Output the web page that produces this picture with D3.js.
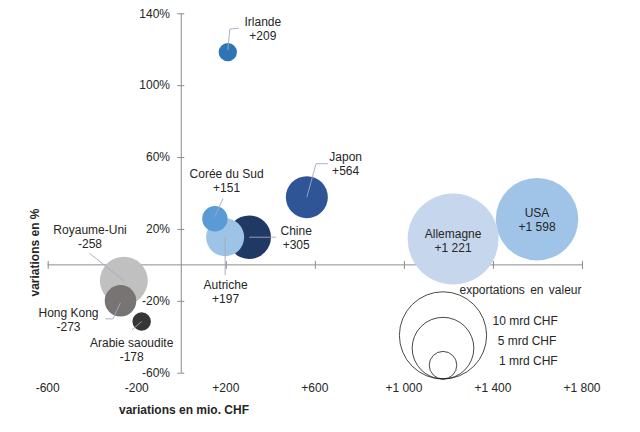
<!DOCTYPE html>
<html>
<head>
<meta charset="utf-8">
<script src="https://cdn.jsdelivr.net/npm/d3@7"></script>
<style>
  html, body { margin: 0; padding: 0; background: #fff; }
  svg { display: block; font-family: "Liberation Sans", Arial, sans-serif; }
</style>
</head>
<body>
<svg id="chart" width="640" height="432"></svg>
<script>
// ---- data ----
const countries   = ["Royaume-Uni", "Hong Kong", "Arabie saoudite", "Chine", "Autriche", "Corée du Sud", "Japon", "Irlande", "USA", "Allemagne"];
const changeMio   = [-258, -273, -178, 305, 197, 151, 564, 209, 1598, 1221];   // variations en mio. CHF
const changePct   = [-8.8, -20, -31.5, 15.4, 15.4, 25.7, 37.7, 118.4, 25.4, 14.4]; // variations en %
const exportsMrd  = [3.02, 1.31, 0.45, 2.5, 1.9, 0.85, 2.32, 0.44, 8.96, 10.87];   // exportations en valeur (mrd CHF)
const changeLabels = ["-258", "-273", "-178", "+305", "+197", "+151", "+564", "+209", "+1 598", "+1 221"];

const xTicks = [-600, -200, 200, 600, 1000, 1400, 1800];
const xTickLabels = ["-600", "-200", "+200", "+600", "+1 000", "+1 400", "+1 800"];
const yTicks = [140, 100, 60, 20, -20, -60];
const yTickLabels = ["140%", "100%", "60%", "20%", "-20%", "-60%"];

const legendValues = [10, 5, 1];
const legendLabels = ["10 mrd CHF", "5 mrd CHF", "1 mrd CHF"];

// ---- styles / layout ----
const colors = {
  "Royaume-Uni": "#c0c0c0", "Hong Kong": "#787474", "Arabie saoudite": "#363636",
  "Chine": "#1f3864", "Autriche": "#9dc3e6", "Corée du Sud": "#5b9bd5",
  "Japon": "#2f5597", "Irlande": "#2e75b6", "USA": "#9fc4e7", "Allemagne": "#c6d6ec"
};
// label offset from bubble centre (px), leader polyline relative to centre
const labelLayout = {
  "Irlande":        { dx: 35,  dy: -30.5, leader: [[0,-2],[2,-23],[11,-24]] },
  "Corée du Sud":   { dx: 11.7,dy: -45.4, leader: [[0,-2],[8,-20]] },
  "Japon":          { dx: 38.8,dy: -40,   leader: [[0,0],[9.2,-33.4],[21,-33.4]] },
  "Chine":          { dx: 47,  dy: -6.5,  leader: [[0,0],[27,0]] },
  "Autriche":       { dx: 0.5, dy: 47.7,  leader: [[0,0],[0,38]] },
  "Allemagne":      { dx: 0,   dy: -5.7,  leader: null },
  "USA":            { dx: 0,   dy: -6.6,  leader: null },
  "Royaume-Uni":    { dx: -33.8,dy: -51.4,leader: [[0,0],[-34.3,-27.4]] },
  "Hong Kong":      { dx: -52, dy: 12.3,  leader: [[0,2],[-7.6,18],[-15,18]] },
  "Arabie saoudite":{ dx: -10, dy: 21.7,  leader: [[0,0],[-9.7,8.4]] }
};

const svg = d3.select("#chart");
const x = d3.scaleLinear().domain([-600, 1800]).range([47.7, 582]);
const y = d3.scaleLinear().domain([-60, 140]).range([372.7, 13.3]);
const r = d3.scaleSqrt().domain([0, 10]).range([0, 43.6]);

const axisColor = "#8c8c8c";
const textColor = "#262626";

// ---- axes ----
const xAxis = svg.append("g")
  .attr("transform", `translate(0,${y(0)})`)
  .call(d3.axisBottom(x).tickValues(xTicks).tickSize(4).tickFormat(""));
xAxis.select(".domain").attr("d", `M${x(-600)},0H${x(1800)}`).attr("stroke", axisColor);
xAxis.selectAll(".tick line").attr("y1", -4).attr("y2", 4).attr("stroke", axisColor);

const yAxis = svg.append("g")
  .attr("transform", `translate(${x(0)},0)`)
  .call(d3.axisLeft(y).tickValues(yTicks).tickSize(4).tickFormat(""));
yAxis.select(".domain").attr("d", `M0,${y(140)}V${y(-60)}`).attr("stroke", axisColor);
yAxis.selectAll(".tick line").attr("x1", -4).attr("x2", 3).attr("stroke", axisColor);

// tick labels
svg.append("g").selectAll("text").data(xTicks).join("text")
  .attr("x", d => x(d)).attr("y", 392)
  .attr("text-anchor", "middle").attr("font-size", 12).attr("fill", textColor)
  .text((d, i) => xTickLabels[i]);

svg.append("g").selectAll("text").data(yTicks).join("text")
  .attr("x", 170).attr("y", d => y(d) + 4.3)
  .attr("text-anchor", "end").attr("font-size", 12).attr("fill", textColor)
  .text((d, i) => yTickLabels[i]);

// axis titles
svg.append("text").attr("x", 184).attr("y", 413.5)
  .attr("text-anchor", "middle").attr("font-size", 12).attr("font-weight", "bold").attr("fill", textColor)
  .text("variations en mio. CHF");
svg.append("text").attr("transform", "translate(38.5,252.5) rotate(-90)")
  .attr("text-anchor", "middle").attr("font-size", 12).attr("font-weight", "bold").attr("fill", textColor)
  .text("variations en %");

// ---- bubbles ----
const data = countries.map((c, i) => ({
  name: c, dx: changeMio[i], dp: changePct[i], v: exportsMrd[i], label: changeLabels[i]
}));

svg.append("g").selectAll("circle").data(data).join("circle")
  .attr("cx", d => x(d.dx)).attr("cy", d => y(d.dp)).attr("r", d => r(d.v))
  .attr("fill", d => colors[d.name]);

// leaders
const line = d3.line();
svg.append("g").selectAll("path").data(data.filter(d => labelLayout[d.name].leader)).join("path")
  .attr("d", d => line(labelLayout[d.name].leader.map(p => [x(d.dx) + p[0], y(d.dp) + p[1]])))
  .attr("fill", "none").attr("stroke", "#a3a8bd").attr("stroke-width", 0.9);

// labels
const lbl = svg.append("g").selectAll("text").data(data).join("text")
  .attr("text-anchor", "middle").attr("font-size", 12).attr("fill", textColor)
  .attr("transform", d => `translate(${x(d.dx) + labelLayout[d.name].dx},${y(d.dp) + labelLayout[d.name].dy})`);
lbl.append("tspan").attr("x", 0).attr("y", 4.3).text(d => d.name);
lbl.append("tspan").attr("x", 0).attr("y", 18.3).text(d => d.label);

// ---- size legend ----
const lx = 443, lBottom = 379;
svg.append("g").selectAll("circle").data(legendValues).join("circle")
  .attr("cx", lx).attr("cy", d => lBottom - r(d)).attr("r", d => r(d))
  .attr("fill", "none").attr("stroke", "#1a1a1a").attr("stroke-width", 0.8);
svg.append("text").attr("x", 520.5).attr("y", 294)
  .attr("text-anchor", "middle").attr("font-size", 12).attr("fill", textColor)
  .attr("word-spacing", 2).text("exportations en valeur");
const legendY = [320.7, 340.3, 360.3];
const legendX = [492.5, 497.7, 499];
svg.append("g").selectAll("text").data(legendLabels).join("text")
  .attr("x", (d, i) => legendX[i]).attr("y", (d, i) => legendY[i] + 4.3)
  .attr("font-size", 12).attr("fill", textColor).text(d => d);
</script>
</body>
</html>
